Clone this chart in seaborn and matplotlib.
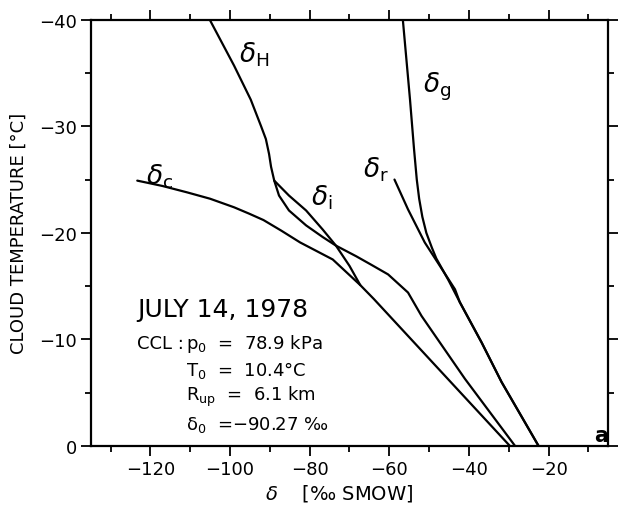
import matplotlib
matplotlib.use("Agg")
import matplotlib.pyplot as plt
import seaborn as sns
import pandas as pd
from matplotlib.ticker import MultipleLocator

sns.set_theme(style="ticks")
plt.rcParams['font.family'] = ['DejaVu Sans']
plt.rcParams['mathtext.fontset'] = 'dejavusans'
plt.rcParams['text.color'] = 'black'
plt.rcParams['axes.labelcolor'] = 'black'
plt.rcParams['xtick.color'] = 'black'
plt.rcParams['ytick.color'] = 'black'

# ---- data (delta in permil SMOW, cloud temperature in deg C) ----
H_T = [-40, -35.7, -32.5, -30.0, -28.8, -27.4, -26.2, -24.9, -23.5, -22.1, -20.7, -19.6,
       -18.8, -17.8, -17.0, -16.1, -14.4, -12.2, -6.3, 0]
H_d = [-105.1, -99.0, -94.8, -92.2, -91.0, -90.2, -89.7, -88.9, -87.7, -85.2, -80.9, -76.7,
       -73.4, -68.3, -64.5, -60.3, -55.3, -51.9, -41.0, -28.4]

i_T = [-24.9, -23.5, -22.1, -20.3, -18.8, -16.9, -15.1]
i_d = [-88.9, -85.2, -80.9, -76.7, -73.4, -70.0, -67.3]

c_T = [-24.9, -24.4, -23.8, -23.2, -22.4, -21.8, -21.2, -20.2, -19.1, -17.5, -15.1,
       -13.8, 0]
c_d = [-123.3, -117.0, -110.8, -105.0, -99.0, -95.2, -91.6, -87.1, -82.4, -74.2, -67.3,
       -63.9, -29.7]

g_T = [-40, -32.5, -27.9, -25.0, -23.2, -21.5, -20.0, -18.6, -17.6, -15.6, -13.5,
       -9.7, -6.0, 0]
g_d = [-56.6, -54.8, -53.8, -53.1, -52.5, -51.7, -50.7, -49.3, -48.2, -45.2, -42.3,
       -36.8, -31.8, -22.5]

r_T = [-25.0, -22.2, -19.1, -16.9, -14.7, -13.5, -9.7, -6.0, 0]
r_d = [-58.7, -55.3, -51.1, -47.3, -43.5, -42.3, -36.8, -31.8, -22.5]

curve_names = ["H", "i", "c", "g", "r"]
curve_labels = [r"$\delta_\mathrm{H}$", r"$\delta_\mathrm{i}$", r"$\delta_\mathrm{c}$",
                r"$\delta_\mathrm{g}$", r"$\delta_\mathrm{r}$"]
label_d = [-94.0, -76.9, -117.8, -47.9, -63.3]
label_T = [-36.8, -23.4, -25.4, -33.8, -26.0]

x_ticks = [-120, -100, -80, -60, -40, -20]
y_ticks = [0, -10, -20, -30, -40]

info_title = "JULY 14, 1978"
info_lines = ["CCL :", r"$\mathrm{p_0}$  =  78.9 kPa", r"$\mathrm{T_0}$  =  10.4°C",
              r"$\mathrm{R_{up}}$  =  6.1 km", r"$\mathrm{\delta_0}$  =−90.27 ‰"]

frames = []
for name, T, d in [("H", H_T, H_d), ("i", i_T, i_d), ("c", c_T, c_d),
                   ("g", g_T, g_d), ("r", r_T, r_d)]:
    frames.append(pd.DataFrame({"curve": name, "T": T, "delta": d}))
df = pd.concat(frames, ignore_index=True)

fig = plt.figure(figsize=(6.19, 5.06), dpi=100)
ax = fig.add_axes([0.1465, 0.1166, 0.8362, 0.8425])

for name in curve_names:
    sub = df[df["curve"] == name]
    sns.lineplot(data=sub, x="delta", y="T", sort=False, estimator=None,
                 color="black", linewidth=1.6, ax=ax)

ax.set_xlim(-135, -5)
ax.set_ylim(0, -40)
ax.set_xticks(x_ticks)
ax.set_yticks(y_ticks)
ax.xaxis.set_minor_locator(MultipleLocator(10))
ax.yaxis.set_minor_locator(MultipleLocator(5))
ax.tick_params(which="both", direction="out", top=True, right=True,
               color="black", width=1.3)
ax.tick_params(which="major", length=7, labelsize=13, pad=3)
ax.tick_params(which="minor", length=4)
for s in ax.spines.values():
    s.set_visible(True)
    s.set_linewidth(1.6)
    s.set_color("black")

ax.set_xlabel(r"$\delta$    [‰ SMOW]", fontsize=14, labelpad=6)
ax.xaxis.set_label_coords(0.48, -0.085)
ax.set_ylabel("CLOUD TEMPERATURE [°C]", fontsize=13, labelpad=8)

for lab, xd, yt in zip(curve_labels, label_d, label_T):
    ax.text(xd, yt, lab, fontsize=19, ha="center", va="center")

ax.text(-123.3, -12.9, info_title, fontsize=18, ha="left", va="center")
ax.text(-123.3, -9.7, info_lines[0], fontsize=13, ha="left", va="center")
ys = [-9.7, -7.2, -4.7, -2.1]
for line, yv in zip(info_lines[1:], ys):
    ax.text(-111.0, yv, line, fontsize=13, ha="left", va="center")

ax.text(-6.8, -1.0, "a", fontsize=15, fontweight="bold", ha="center", va="center")

fig.savefig("out.png", dpi=100)
